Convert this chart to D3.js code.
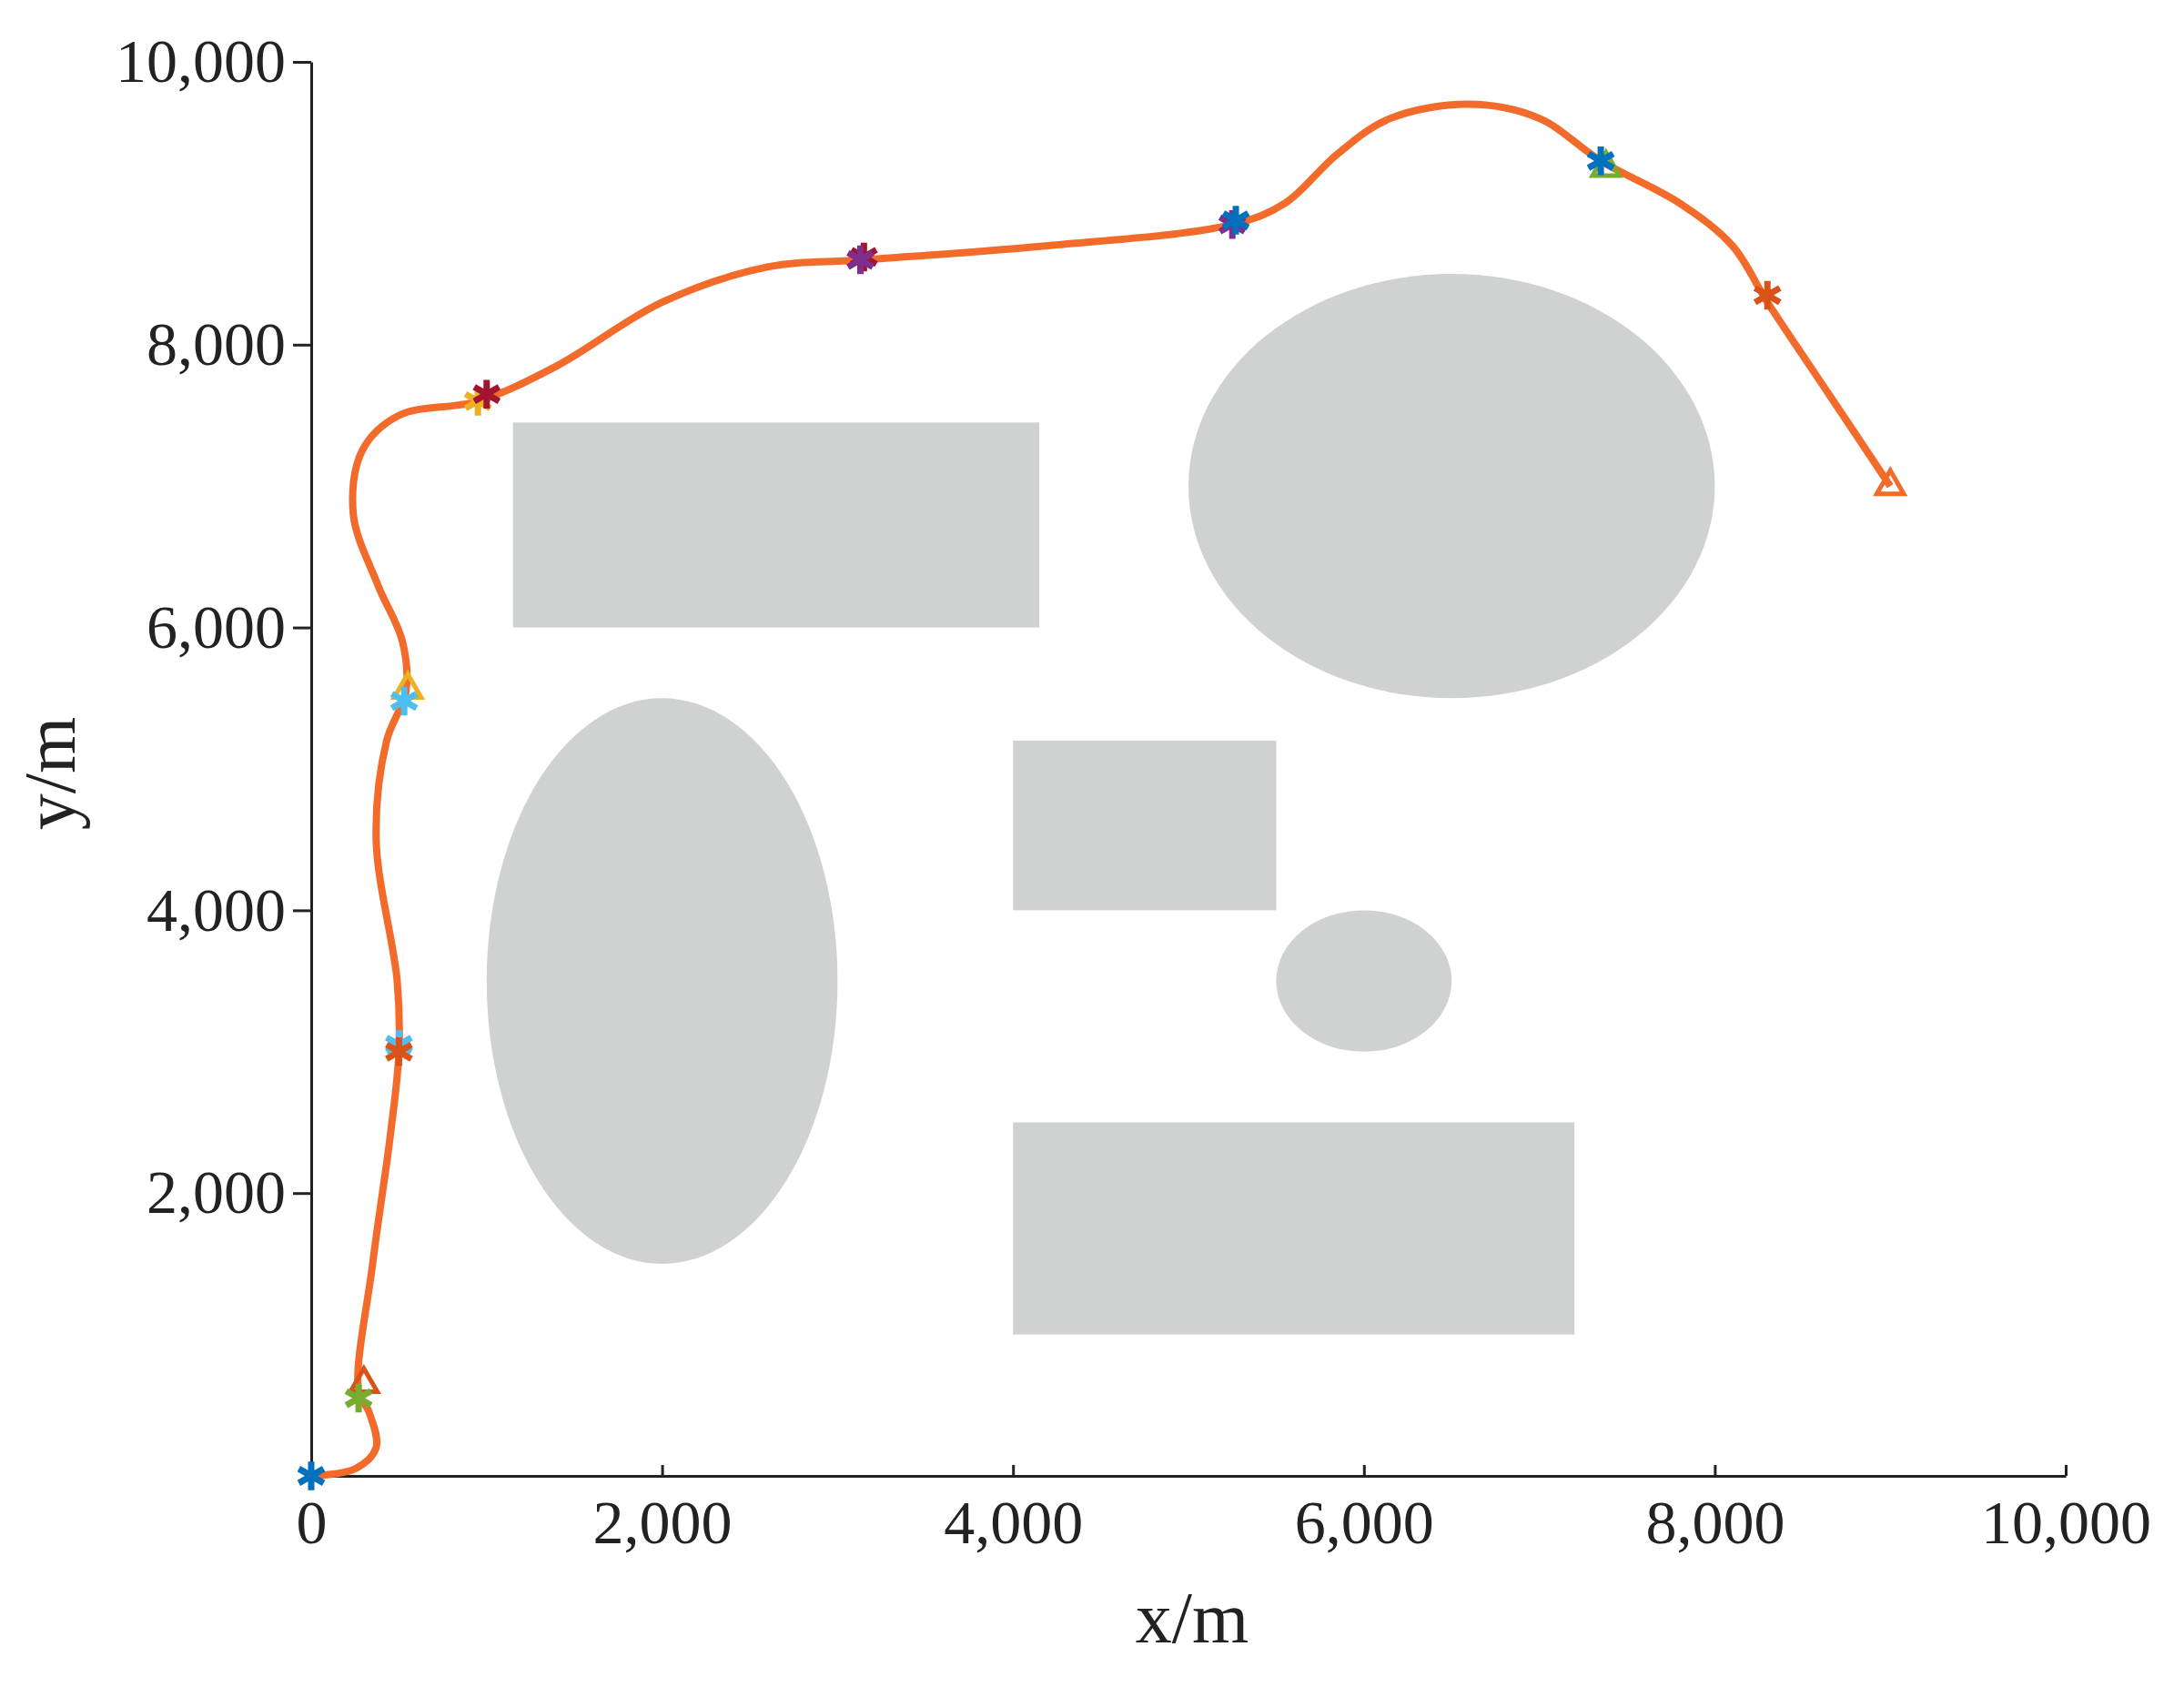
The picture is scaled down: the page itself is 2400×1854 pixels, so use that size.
<!DOCTYPE html>
<html><head><meta charset="utf-8">
<script src="https://cdn.jsdelivr.net/npm/d3@7"></script>
<style>body{margin:0;background:#fff} text{font-family:"Liberation Serif","Times New Roman",serif}</style>
</head><body>
<svg class="chart"></svg>
<script>
// obstacles in metres
var rects = [[1150,6000,4150,7450],[4000,4000,5500,5200],[4000,1000,7200,2500]];
var ellipses = [[6500,7000,1500,1500],[2000,3500,1000,2000],[6000,3500,500,500]];

// planned path
var pathX = [0,250,370,330,270,350,450,500,490,370,430,540,520,380,240,290,500,950,1400,2000,2600,3150,4200,5250,5550,5850,6150,6600,7000,7350,7800,8100,8300,8650,9000];
var pathY = [0,50,200,450,600,1500,2400,3000,3500,4500,5200,5550,5900,6300,6800,7250,7500,7600,7850,8300,8550,8600,8700,8850,9000,9350,9600,9700,9600,9300,9000,8700,8300,7650,7000];

// waypoint markers
var markX = [0,270,500,500,530,950,1000,3150,3130,5250,5270,7350,8300];
var markY = [0,550,3050,3000,5480,7600,7650,8620,8600,8850,8880,9300,8350];
var markC = ["#0072BD","#77AC30","#4DBEEE","#D95319","#4DBEEE","#EDB120","#A2142F","#A2142F","#7E2F8E","#7E2F8E","#0072BD","#0072BD","#D95319"];
var triX = [300,550,7380,9000];
var triY = [650,5560,9250,7000];
var triC = ["#D95319","#EDB120","#77AC30","#F26B2A"];

var xTicks = [0,2000,4000,6000,8000,10000];
var yTicks = [2000,4000,6000,8000,10000];

var width = 2400, height = 1854;
var chart = d3.select(".chart").attr("width", width).attr("height", height);

var x = d3.scaleLinear().domain([0,10000]).range([342,2270]);
var y = d3.scaleLinear().domain([0,10000]).range([1622,68]);

chart.selectAll(".ob").data(rects).enter().append("rect")
  .attr("x", d => x(d[0])).attr("y", d => y(d[3]))
  .attr("width", d => x(d[2]) - x(d[0])).attr("height", d => y(d[1]) - y(d[3]))
  .attr("fill", "#d0d2d1");

chart.selectAll(".el").data(ellipses).enter().append("ellipse")
  .attr("cx", d => x(d[0])).attr("cy", d => y(d[1]))
  .attr("rx", d => x(d[2]) - x(0)).attr("ry", d => y(0) - y(d[3]))
  .attr("fill", "#d0d2d1");

var fmt = d3.format(",");
var xa = chart.append("g").attr("transform","translate(0,1622)")
  .call(d3.axisBottom(x).tickValues(xTicks).tickFormat(fmt).tickSizeInner(-12).tickSizeOuter(0).tickPadding(26));
var ya = chart.append("g").attr("transform","translate(342,0)")
  .call(d3.axisLeft(y).tickValues(yTicks).tickFormat(fmt).tickSizeInner(20).tickSizeOuter(0).tickPadding(8));
[xa, ya].forEach(function(a){
  a.attr("font-family", null);
  a.selectAll("path,line").attr("stroke","#222").attr("stroke-width",3);
  a.selectAll("text").attr("font-size",68).attr("fill","#222");
});

var pts = pathX.map((v,i) => [x(v), y(pathY[i])]);
chart.append("path").attr("d", d3.line().curve(d3.curveCatmullRom)(pts))
  .attr("fill","none").attr("stroke","#F26B2A").attr("stroke-width",8);

chart.selectAll(".tri").data(triX).enter().append("path")
  .attr("transform", (d,i) => "translate(" + x(d) + "," + y(triY[i]) + ")")
  .attr("d", d3.symbol(d3.symbolTriangle, 380)())
  .attr("fill","none").attr("stroke", (d,i) => triC[i]).attr("stroke-width",5);

chart.selectAll(".mk").data(markX).enter().append("path")
  .attr("transform", (d,i) => "translate(" + x(d) + "," + y(markY[i]) + ")")
  .attr("d", d3.symbol(d3.symbolAsterisk, 700)())
  .attr("fill","none").attr("stroke", (d,i) => markC[i]).attr("stroke-width",7);

chart.append("text").attr("x",1310).attr("y",1805).attr("text-anchor","middle")
  .attr("font-size",80).attr("fill","#222").text("x/m");
chart.append("text").attr("transform","translate(82,850) rotate(-90)").attr("text-anchor","middle")
  .attr("font-size",80).attr("fill","#222").text("y/m");
</script>
</body></html>
